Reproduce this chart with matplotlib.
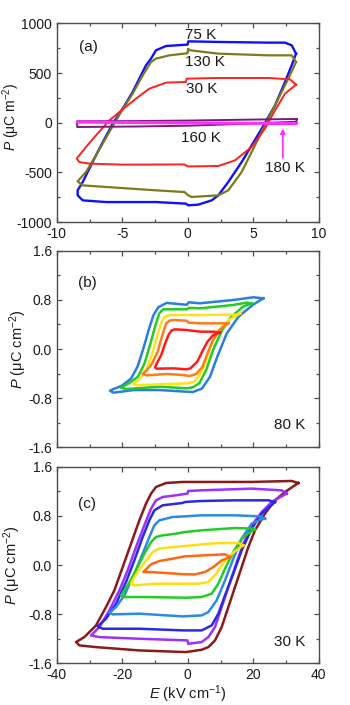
import matplotlib
matplotlib.use('Agg')
import matplotlib.pyplot as plt
from matplotlib.ticker import MultipleLocator

plt.rcParams['font.family'] = ['Liberation Sans', 'DejaVu Sans']
plt.rcParams['mathtext.fontset'] = 'custom'
plt.rcParams['mathtext.rm'] = 'Liberation Sans'
plt.rcParams['mathtext.it'] = 'Liberation Sans:italic'

# ---------------- panel (a): P (uC m^-2) vs E (kV cm^-1) ----------------
a75_E = [8.26, 7.93, 7.42, 6.15, 2.33, 0.04, -0.02, -1.66, -2.43, -2.81, -3.19, -4.21, -4.97, -5.73,
         -6.75, -7.52, -8.02, -8.41, -8.41, -8.02, -6.24, -2.43, -0.14, 0.02, 0.8, 1.82, 2.33, 3.09,
         4.11, 5.64, 6.66, 7.42, 7.93, 8.26]
a75_P = [696, 780, 807, 807, 814, 820, 787, 773, 730, 646, 579, 310, 142, -9,
         -261, -463, -597, -681, -731, -782, -799, -799, -815, -832, -825, -782, -731, -597,
         -396, -60, 175, 411, 579, 696]

a130_E = [8.26, 7.93, 6.15, 2.33, 0.17, 0.02, -0.02, -1.41, -2.43, -2.81, -3.44, -4.21, -5.1, -5.99,
          -7.01, -7.77, -8.41, -8.02, -6.24, -2.43, -0.26, 0.02, 0.3, 2.33, 3.09, 4.11, 5.64, 6.91,
          7.67, 8.26]
a130_P = [612, 679, 679, 696, 730, 745, 700, 679, 646, 612, 478, 293, 108, -93,
          -328, -496, -590, -631, -647, -681, -698, -731, -748, -731, -681, -496, -93, 243,
          444, 612]

a30_E = [8.26, 7.8, 6.15, 2.33, -0.09, -0.14, -1.66, -2.94, -3.95, -4.97, -5.99, -7.01, -7.77, -8.48,
         -8.28, -7.52, -4.97, -0.26, 0.0, 2.33, 3.6, 4.87, 5.89, 6.66, 7.42, 8.26]
a30_P = [384, 437, 451, 451, 444, 411, 404, 343, 243, 135, 24, -127, -244, -362,
         -396, -412, -422, -420, -440, -436, -379, -244, -60, 125, 293, 384]

a160_E = [8.3, 4.0, 0.0, -4.0, -8.45, -8.45, -4.0, 0.0, 4.0, 8.3, 8.3]
a160_P = [38, 30, 22, 17, 15, -43, -38, -30, -12, 10, 38]

a180_E = [8.3, 0.0, -8.45, -8.45, 0.0, 8.3, 8.3]
a180_P = [-5, 4, 12, 2, -6, -12, -5]

# ---------------- panel (b): 80 K, P (uC cm^-2) ----------------
b1_E = [23.06, 20.0, 13.9, 3.7, 0.3, -0.3, -6.5, -9.0, -10.5, -12.0, -13.5, -15.3, -17.3, -20.2,
        -22.6, -23.76, -22.7, -16.6, -8.49, -0.35, 1.5, 4.3, 6.8, 9.0, 11.9, 15.5, 19.8, 23.06]
b1_P = [0.825, 0.842, 0.798, 0.744, 0.76, 0.72, 0.75, 0.68, 0.55, 0.30, 0.02, -0.28, -0.48, -0.6,
        -0.65, -0.678, -0.711, -0.668, -0.668, -0.695, -0.70, -0.645, -0.45, -0.125, 0.255, 0.527, 0.717, 0.825]

b2_E = [19.5, 17.97, 13.9, 3.72, 0.3, -0.3, -7.5, -8.7, -10.0, -11.4, -13.2, -15.2, -18.0, -20.5,
        -18.7, -8.49, -0.35, 1.5, 3.5, 5.6, 7.7, 10.5, 13.3, 16.9, 19.5]
b2_P = [0.744, 0.755, 0.717, 0.662, 0.67, 0.646, 0.646, 0.581, 0.364, 0.092, -0.233, -0.45, -0.559, -0.63,
        -0.651, -0.613, -0.64, -0.624, -0.559, -0.342, -0.016, 0.31, 0.527, 0.69, 0.744]

b3_E = [16.0, 15.0, 3.72, -5.5, -7.0, -8.0, -9.4, -10.8, -12.5, -14.5, -16.6, -15.6, -6.45, 0.0,
        2.0, 4.0, 5.6, 7.3, 9.6, 12.5, 16.0]
b3_P = [0.58, 0.56, 0.554, 0.554, 0.527, 0.445, 0.201, -0.07, -0.315, -0.478, -0.57, -0.59, -0.57, -0.559,
        -0.532, -0.396, -0.179, 0.092, 0.31, 0.472, 0.58]

b4_E = [12.38, 10.85, 3.72, 0.2, -0.35, -4.5, -5.6, -6.6, -7.9, -9.2, -10.9, -12.4, -13.78, -12.56,
        -6.45, -1.36, 0.5, 2.6, 4.5, 6.0, 7.7, 9.6, 12.38]
b4_P = [0.418, 0.418, 0.418, 0.43, 0.461, 0.472, 0.461, 0.418, 0.201, -0.043, -0.233, -0.342, -0.407, -0.429,
        -0.407, -0.423, -0.44, -0.407, -0.288, -0.07, 0.147, 0.31, 0.418]

b5_E = [9.83, 7.8, 3.72, -0.35, -4.0, -5.0, -5.9, -6.9, -8.1, -9.2, -10.02, -9.51, -4.42, -0.35,
        0.8, 2.9, 4.4, 6.0, 7.8, 9.83]
b5_P = [0.266, 0.282, 0.282, 0.31, 0.32, 0.3, 0.228, 0.092, -0.098, -0.206, -0.299, -0.32, -0.315, -0.331,
        -0.315, -0.206, -0.043, 0.12, 0.228, 0.266]

# ---------------- panel (c): 30 K, P (uC cm^-2) ----------------
c1_E = [33.75, 31.7, 19.5, 4.23, -1.56, -6.65, -9.71, -11.23, -12.76, -14.8, -17.34, -19.88, -22.43,
        -24.97, -28.03, -31.59, -34.13, -33.1, -28.03, -14.8, -0.55, 4.23, 6.27, 8.3, 10.34, 12.38,
        14.41, 16.45, 18.48, 20.52, 23.57, 26.63, 29.68, 33.75]
c1_P = [1.335, 1.368, 1.352, 1.352, 1.352, 1.335, 1.27, 1.162, 0.999, 0.727, 0.347, -0.033, -0.413,
        -0.684, -0.983, -1.173, -1.254, -1.308, -1.336, -1.39, -1.417, -1.379, -1.336, -1.227, -1.01, -0.684,
        -0.358, -0.033, 0.293, 0.565, 0.836, 1.053, 1.189, 1.335]

c2_E = [30.19, 28.66, 19.5, 4.23, 0.1, -0.1, -3.6, -7.67, -9.71, -11.23, -13.27, -15.81, -18.36, -20.9,
        -23.96, -27.0, -29.55, -27.0, -14.8, -0.1, 0.1, 4.23, 6.27, 8.3, 10.34, 12.38, 14.41, 16.96,
        19.5, 22.56, 25.61, 28.66, 30.19]
c2_P = [1.162, 1.216, 1.243, 1.216, 1.205, 1.162, 1.135, 1.107, 1.053, 0.917, 0.646, 0.293, -0.087, -0.413,
        -0.738, -1.01, -1.146, -1.173, -1.2, -1.227, -1.281, -1.254, -1.173, -1.01, -0.684, -0.358, -0.033, 0.347,
        0.646, 0.863, 1.026, 1.118, 1.162]

c3_E = [26.63, 24.59, 14.41, 4.23, -0.86, -1.56, -7.67, -10.22, -11.74, -13.78, -16.32, -18.87, -21.92,
        -24.97, -27.52, -25.99, -14.8, -1.56, 4.23, 7.29, 9.32, 11.36, 13.9, 16.45, 19.5, 22.56, 25.1, 26.63]
c3_P = [1.026, 1.053, 1.053, 1.042, 1.026, 1.01, 0.972, 0.89, 0.727, 0.456, 0.076, -0.277, -0.63,
        -0.874, -0.999, -1.037, -1.037, -1.064, -1.064, -0.983, -0.792, -0.494, -0.141, 0.239, 0.592, 0.836,
        0.955, 1.026]

c4_E = [23.57, 22.05, 14.41, 4.23, -0.86, -4.62, -8.69, -10.22, -11.74, -13.78, -16.32, -19.37, -21.92,
        -23.96, -22.94, -14.8, -1.56, 4.23, 6.27, 8.81, 11.36, 13.9, 16.45, 19.5, 22.05, 23.57]
c4_P = [0.754, 0.792, 0.809, 0.809, 0.792, 0.782, 0.727, 0.646, 0.456, 0.185, -0.141, -0.494, -0.684,
        -0.776, -0.803, -0.792, -0.836, -0.82, -0.766, -0.575, -0.25, 0.103, 0.429, 0.673, 0.738, 0.754]

c5_E = [20.52, 20.01, 14.41, 4.23, -0.86, -3.6, -7.67, -9.71, -11.23, -13.27, -15.81, -18.36, -20.39,
        -19.37, -12.76, -0.55, 4.23, 7.29, 9.32, 11.36, 13.9, 16.45, 19.0, 20.52]
c5_P = [0.575, 0.592, 0.602, 0.565, 0.537, 0.51, 0.483, 0.456, 0.374, 0.185, -0.087, -0.331, -0.494,
        -0.521, -0.521, -0.532, -0.521, -0.467, -0.304, -0.06, 0.212, 0.429, 0.537, 0.575]

c6_E = [16.96, 15.43, 9.32, 4.23, -0.86, -4.62, -8.69, -10.73, -12.25, -14.29, -16.32, -17.34, -16.32,
        -9.71, -0.55, 3.22, 6.27, 8.3, 10.34, 12.89, 15.43, 16.96]
c6_P = [0.32, 0.358, 0.358, 0.336, 0.309, 0.293, 0.266, 0.212, 0.103, -0.033, -0.195, -0.304, -0.331,
        -0.304, -0.304, -0.304, -0.277, -0.168, -0.006, 0.158, 0.266, 0.32]

c7_E = [12.89, 11.36, 5.25, -0.86, -4.62, -8.69, -11.23, -13.57, -11.74, -6.65, -0.55, 2.2, 5.25, 7.8,
        10.34, 12.89]
c7_P = [0.13, 0.174, 0.158, 0.141, 0.103, 0.065, 0.011, -0.114, -0.114, -0.13, -0.152, -0.152, -0.114, -0.033,
        0.076, 0.13]

a_ticks = [-1000, -500, 0, 500, 1000]
ax_ticks = [-10, -5, 0, 5, 10]
bc_ticks = [-1.6, -0.8, 0.0, 0.8, 1.6]
bc_xticks = [-40, -20, 0, 20, 40]

TXT = '#1a1a1a'
FRAME = '#4d4d4d'

fig = plt.figure(figsize=(3.5, 7.05), dpi=100)
axa = fig.add_axes([0.1623, 0.6851, 0.7486, 0.2816])
axb = fig.add_axes([0.1623, 0.3655, 0.7486, 0.2789])
axc = fig.add_axes([0.1623, 0.0591, 0.7486, 0.2789])


def style(ax, xmaj, xmin, ymaj, ymin):
    for s in ax.spines.values():
        s.set_color(FRAME)
        s.set_linewidth(1.0)
    ax.xaxis.set_major_locator(MultipleLocator(xmaj))
    ax.xaxis.set_minor_locator(MultipleLocator(xmin))
    ax.yaxis.set_major_locator(MultipleLocator(ymaj))
    ax.yaxis.set_minor_locator(MultipleLocator(ymin))
    ax.tick_params(which='both', direction='in', top=True, right=True, color=FRAME,
                   labelsize=10, labelcolor=TXT, width=0.9)
    ax.tick_params(which='major', length=3.5, pad=3.5)
    ax.tick_params(which='minor', length=2.0)


# panel (a)
axa.plot(a75_E, a75_P, color='#1010ff', lw=1.7)
axa.plot(a130_E, a130_P, color='#7b7b1c', lw=1.6)
axa.plot(a30_E, a30_P, color='#ff2020', lw=1.4)
axa.plot(a160_E, a160_P, color='#7a1a7a', lw=1.4)
axa.plot(a180_E, a180_P, color='#ff30ff', lw=1.6)
axa.set_xlim(-10, 10)
axa.set_ylim(-1000, 1000)
style(axa, 5, 2.5, 500, 250)
axa.set_xticks(ax_ticks)
axa.set_yticks(a_ticks)
axa.set_xticklabels([str(v) for v in ax_ticks])
axa.set_yticklabels([str(v) for v in a_ticks])
axa.set_ylabel(r'$P$ (μC m$^{-2}$)', fontsize=10, color=TXT)
axa.yaxis.set_label_coords(-0.133, 0.53)
axa.text(-8.3, 763, '(a)', fontsize=11, color=TXT, va='center', ha='left')
axa.text(-0.2, 884, '75 K', fontsize=11, color=TXT, va='center', ha='left')
axa.text(-0.2, 612, '130 K', fontsize=11, color=TXT, va='center', ha='left')
axa.text(-0.1, 340, '30 K', fontsize=11, color=TXT, va='center', ha='left')
axa.text(-0.5, -150, '160 K', fontsize=11, color=TXT, va='center', ha='left')
axa.text(7.4, -460, '180 K', fontsize=11, color=TXT, va='center', ha='center')
axa.annotate('', xy=(7.25, -30), xytext=(7.25, -380),
             arrowprops=dict(arrowstyle='-|>', color='#ff30ff', lw=1.3, mutation_scale=7))

# panel (b)
bcols = ['#2a7de1', '#22cc22', '#ffe21a', '#ff7a1a', '#ff1a1a']
for E, P, c in zip([b1_E, b2_E, b3_E, b4_E, b5_E], [b1_P, b2_P, b3_P, b4_P, b5_P], bcols):
    axb.plot(E, P, color=c, lw=1.8)
axb.set_xlim(-40, 40)
axb.set_ylim(-1.6, 1.6)
style(axb, 20, 10, 0.8, 0.4)
axb.set_yticks(bc_ticks)
axb.set_yticklabels(['%.1f' % v for v in bc_ticks])
axb.set_xticklabels([])
axb.set_ylabel(r'$P$ (μC cm$^{-2}$)', fontsize=10.5, color=TXT)
axb.yaxis.set_label_coords(-0.106, 0.5)
axb.text(-33.5, 1.07, '(b)', fontsize=11, color=TXT, va='center', ha='left')
axb.text(35.8, -1.24, '80 K', fontsize=11, color=TXT, va='center', ha='right')

# panel (c)
ccols = ['#8b1a1a', '#9b30ff', '#2a2ae0', '#2a8ae8', '#22cc22', '#ffdd11', '#ff6611']
for E, P, c in zip([c1_E, c2_E, c3_E, c4_E, c5_E, c6_E, c7_E],
                   [c1_P, c2_P, c3_P, c4_P, c5_P, c6_P, c7_P], ccols):
    axc.plot(E, P, color=c, lw=1.8)
axc.set_xlim(-40, 40)
axc.set_ylim(-1.6, 1.6)
style(axc, 20, 10, 0.8, 0.4)
axc.set_xticks(bc_xticks)
axc.set_xticklabels([str(v) for v in bc_xticks])
axc.set_yticks(bc_ticks)
axc.set_yticklabels(['%.1f' % v for v in bc_ticks])
axc.set_ylabel(r'$P$ (μC cm$^{-2}$)', fontsize=10.5, color=TXT)
axc.yaxis.set_label_coords(-0.13, 0.5)
axc.set_xlabel(r'$E$ (kV cm$^{-1}$)', fontsize=10.5, color=TXT, labelpad=1)
axc.text(-33.5, 1.0, '(c)', fontsize=11, color=TXT, va='center', ha='left')
axc.text(35.8, -1.25, '30 K', fontsize=11, color=TXT, va='center', ha='right')

fig.savefig('out.png', dpi=100)
